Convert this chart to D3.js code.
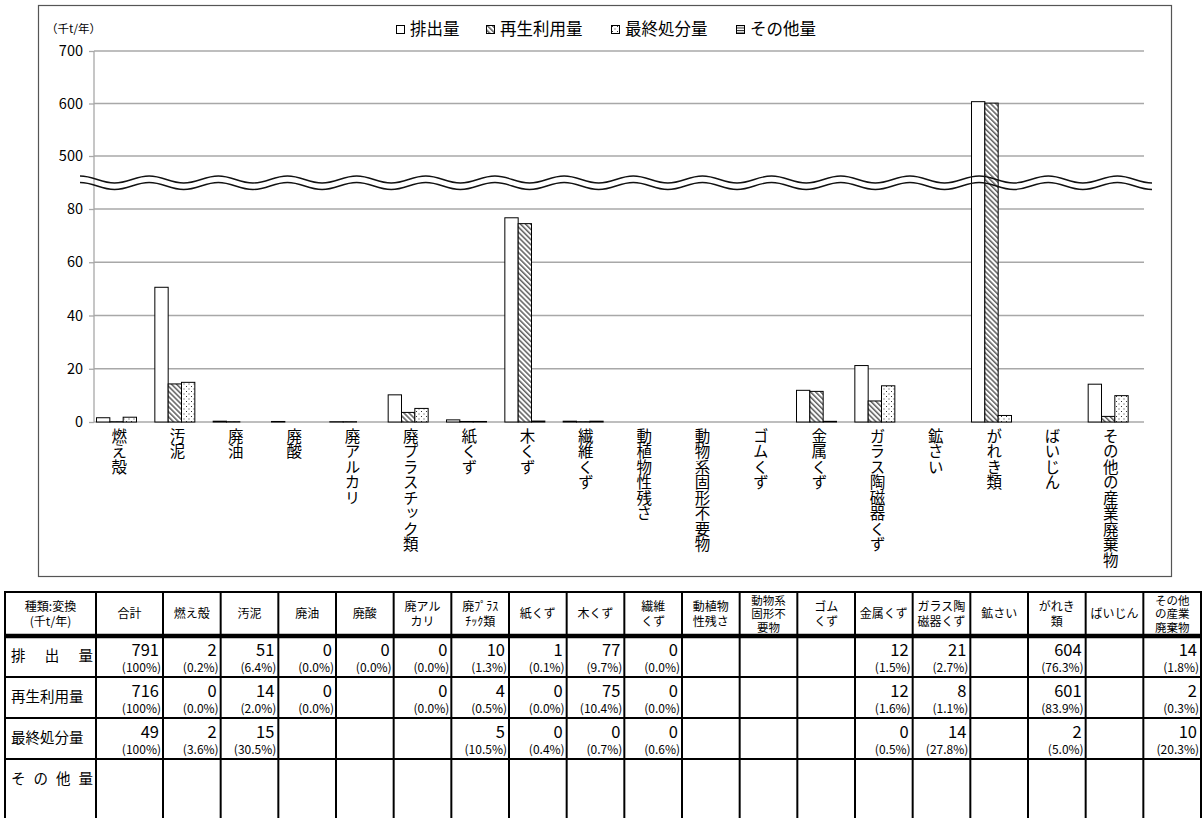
<!DOCTYPE html>
<html><head><meta charset="utf-8">
<script src="https://cdn.jsdelivr.net/npm/d3@7"></script>
<style>
body{margin:0;background:#fff}
svg{display:block}
text{font-family:"Noto Sans CJK JP","Noto Sans",sans-serif;fill:#000}
.vt{writing-mode:vertical-rl;text-orientation:upright}
</style>
</head><body>
<svg id="c" width="1202" height="818"></svg>
<script>
// ---- data ----
const categories = ['燃え殻','汚泥','廃油','廃酸','廃アルカリ','廃プラスチック類','紙くず','木くず','繊維くず','動植物性残さ','動物系固形不要物','ゴムくず','金属くず','ガラス陶磁器くず','鉱さい','がれき類','ばいじん','その他の産業廃棄物'];
const seriesNames = ['排出量','再生利用量','最終処分量','その他量'];
const emission      = [1.6, 50.6, 0.3, 0.2, 0.1, 10.2, 0.8, 76.7, 0.3, null, null, null, 11.9, 21.2, null, 603.5, null, 14.2];
const recycled      = [0.1, 14.3, 0.1, null, 0.1, 3.6, 0.2, 74.5, 0.1, null, null, null, 11.5, 7.9, null, 600.7, null, 2.1];
const finalDisposal = [1.8, 14.9, null, null, null, 5.1, 0.2, 0.35, 0.3, null, null, null, 0.25, 13.6, null, 2.45, null, 9.9];
const otherAmount   = [null,null,null,null,null,null,null,null,null,null,null,null,null,null,null,null,null,null];
const yTicks = [0, 20, 40, 60, 80, 500, 600, 700];
const yUnit = '（千t/年）';

const tableHeader = ['種類:変換\n(千t/年)','合計','燃え殻','汚泥','廃油','廃酸','廃アル\nカリ','廃ﾌﾟﾗｽ\nﾁｯｸ類','紙くず','木くず','繊維\nくず','動植物\n性残さ','動物系\n固形不\n要物','ゴム\nくず','金属くず','ガラス陶\n磁器くず','鉱さい','がれき\n類','ばいじん','その他\nの産業\n廃棄物'];
const rowLabels = ['排出量','再生利用量','最終処分量','その他量'];
const rowEmission = [['791','100%'],['2','0.2%'],['51','6.4%'],['0','0.0%'],['0','0.0%'],['0','0.0%'],['10','1.3%'],['1','0.1%'],['77','9.7%'],['0','0.0%'],null,null,null,['12','1.5%'],['21','2.7%'],null,['604','76.3%'],null,['14','1.8%']];
const rowRecycled = [['716','100%'],['0','0.0%'],['14','2.0%'],['0','0.0%'],null,['0','0.0%'],['4','0.5%'],['0','0.0%'],['75','10.4%'],['0','0.0%'],null,null,null,['12','1.6%'],['8','1.1%'],null,['601','83.9%'],null,['2','0.3%']];
const rowFinal = [['49','100%'],['2','3.6%'],['15','30.5%'],null,null,null,['5','10.5%'],['0','0.4%'],['0','0.7%'],['0','0.6%'],null,null,null,['0','0.5%'],['14','27.8%'],null,['2','5.0%'],null,['10','20.3%']];
const rowOther = [null,null,null,null,null,null,null,null,null,null,null,null,null,null,null,null,null,null,null];

// ---- chart ----
const svg = d3.select('#c');
const defs = svg.append('defs');
const hatch = defs.append('pattern').attr('id','hatch').attr('patternUnits','userSpaceOnUse')
  .attr('width',3.6).attr('height',3.6).attr('patternTransform','rotate(-45)');
hatch.append('rect').attr('width',3.6).attr('height',3.6).attr('fill','#fff');
hatch.append('line').attr('x1',0.8).attr('y1',0).attr('x2',0.8).attr('y2',3.6).attr('stroke','#222').attr('stroke-width',1.1);
const dots = defs.append('pattern').attr('id','dots').attr('patternUnits','userSpaceOnUse').attr('width',5).attr('height',5);
dots.append('rect').attr('width',5).attr('height',5).attr('fill','#fff');
dots.append('rect').attr('x',1).attr('y',1).attr('width',1).attr('height',1).attr('fill','#333');
dots.append('rect').attr('x',3.5).attr('y',3.5).attr('width',1).attr('height',1).attr('fill','#333');
const hlines = defs.append('pattern').attr('id','hlines').attr('patternUnits','userSpaceOnUse').attr('width',3).attr('height',2.5);
hlines.append('rect').attr('width',3).attr('height',2.5).attr('fill','#fff');
hlines.append('rect').attr('y',0).attr('width',3).attr('height',1).attr('fill','#222');
const fills = ['#fff','url(#hatch)','url(#dots)','url(#hlines)'];

// frame
svg.append('rect').attr('x',38.5).attr('y',5.5).attr('width',1133).attr('height',571)
  .attr('fill','none').attr('stroke','#555').attr('stroke-width',1.2);

const y = d3.scaleLinear().domain([0,80,500,700]).range([422,209,156,51]);
const x0 = d3.scaleBand().domain(categories).range([94,1144]).paddingInner(0.086).paddingOuter(0.043);
const x1 = d3.scaleBand().domain(seriesNames).range([0,x0.bandwidth()]);

// gridlines
svg.append('g').selectAll('line').data(yTicks).join('line')
  .attr('x1',94).attr('x2',1144).attr('y1',d=>y(d)).attr('y2',d=>y(d))
  .attr('stroke','#a8a8a8').attr('stroke-width',1.3);

// y axis
const yAxis = d3.axisLeft(y).tickValues(yTicks).tickSize(5).tickPadding(6).tickFormat(d3.format('d'));
const ga = svg.append('g').attr('transform','translate(94,0)').call(yAxis);
ga.select('.domain').attr('stroke','#a8a8a8').attr('stroke-width',1.3).attr('d','M0,'+y(700)+'V'+y(0));
ga.selectAll('.tick line').attr('stroke','#a8a8a8').attr('stroke-width',1.3);
ga.selectAll('.tick text').attr('font-size',14.5).attr('font-family','"Noto Sans",sans-serif').attr('fill','#000');

// bars
const seriesData = [emission, recycled, finalDisposal, otherAmount];
const barData = [];
categories.forEach((c,i)=>seriesNames.forEach((s,j)=>{
  const v = seriesData[j][i];
  if(v!=null) barData.push({c,s,j,v});
}));
svg.append('g').selectAll('rect').data(barData).join('rect')
  .attr('x',d=>x0(d.c)+x1(d.s)).attr('width',x1.bandwidth())
  .attr('y',d=>y(d.v)).attr('height',d=>y(0)-y(d.v))
  .attr('fill',d=>fills[d.j]).attr('stroke','#000').attr('stroke-width',1);

// axis break wave (decoration)
function waveBezier(cy){
  const x0w = 80, x1w = 1152, n = 31, h = (x1w-x0w)/n;
  let p='M'+x0w+','+(cy-3.5);
  for(let k=0; k<n; k++){
    const xx = x0w + k*h, up = (k%2===0);
    const ny = up? cy+3.5 : cy-3.5;
    p += ' C'+(xx+h*0.4)+','+(up?cy-3.5:cy+3.5)+' '+(xx+h*0.6)+','+ny+' '+(xx+h)+','+ny;
  }
  return p;
}
svg.append('path').attr('d',waveBezier(179.5)).attr('fill','none').attr('stroke','#111').attr('stroke-width',1.4);
svg.append('path').attr('d',waveBezier(186)).attr('fill','none').attr('stroke','#111').attr('stroke-width',1.4);

// category labels (vertical)
svg.append('g').selectAll('text').data(categories).join('text')
  .attr('class','vt').attr('x',d=>x0(d)+x0.bandwidth()/2-4).attr('y',428)
  .attr('font-size',15.5).text(d=>d);

// unit label
svg.append('text').attr('x',46).attr('y',33).attr('font-size',11.5).text(yUnit);

// legend
const legX = [396, 486, 611, 736];
const lg = svg.append('g').selectAll('g').data(seriesNames).join('g')
  .attr('transform',(d,i)=>'translate('+legX[i]+',0)');
lg.append('rect').attr('x',0.5).attr('y',25.5).attr('width',8).attr('height',8)
  .attr('fill',(d,i)=>fills[i]).attr('stroke','#000').attr('stroke-width',1);
lg.append('text').attr('x',14).attr('y',35).attr('font-size',16.5).text(d=>d);

// ---- table ----
const colX = [5, 96, 163];
for(let k=1;k<=18;k++) colX.push(163 + k*(1201-163)/18);
const rowY = [592, 636, 677, 718, 759, 840];
const tg = svg.append('g');
tg.selectAll('line.v').data(colX).join('line').attr('class','v')
  .attr('x1',d=>d).attr('x2',d=>d).attr('y1',591).attr('y2',830)
  .attr('stroke','#000').attr('stroke-width',2);
tg.selectAll('line.h').data(rowY.slice(0,5)).join('line').attr('class','h')
  .attr('x1',4).attr('x2',1202).attr('y1',d=>d).attr('y2',d=>d)
  .attr('stroke','#000').attr('stroke-width',(d,i)=>i===1?4.5:2);

// header text
tableHeader.forEach((h,i)=>{
  const lines = h.split('\n');
  const cx = (colX[i]+colX[i+1])/2;
  const lh = lines.length>2 ? 13.5 : 15;
  const fs = lines.length>2 ? 11.5 : 12;
  const cy = 614;
  const t = tg.append('text').attr('text-anchor','middle').attr('font-size',fs);
  lines.forEach((ln,k)=>{
    t.append('tspan').attr('x',cx).attr('y',cy + (k-(lines.length-1)/2)*lh + 4.2).text(ln);
  });
});

// row labels & values
const rows = [rowEmission, rowRecycled, rowFinal, rowOther];
const numFont = '"Liberation Sans Narrow","Roboto","Noto Sans",sans-serif';
rowLabels.forEach((lab,r)=>{
  const top = rowY[r+1];
  const t = tg.append('text').attr('x',11).attr('y',top+25).attr('font-size',14.5).text(lab);
  if(lab.length<5) t.attr('textLength',82).attr('lengthAdjust','spacing');
  rows[r].forEach((cell,i)=>{
    if(!cell) return;
    const right = colX[i+2]-4;
    tg.append('text').attr('x',right).attr('y',top+19.5).attr('text-anchor','end')
      .attr('font-size',16.5).attr('font-family',numFont).text(cell[0]);
    tg.append('text').attr('x',right+2).attr('y',top+36).attr('text-anchor','end')
      .attr('font-size',12).attr('font-family',numFont).text('('+cell[1]+')');
  });
});
</script>
</body></html>
